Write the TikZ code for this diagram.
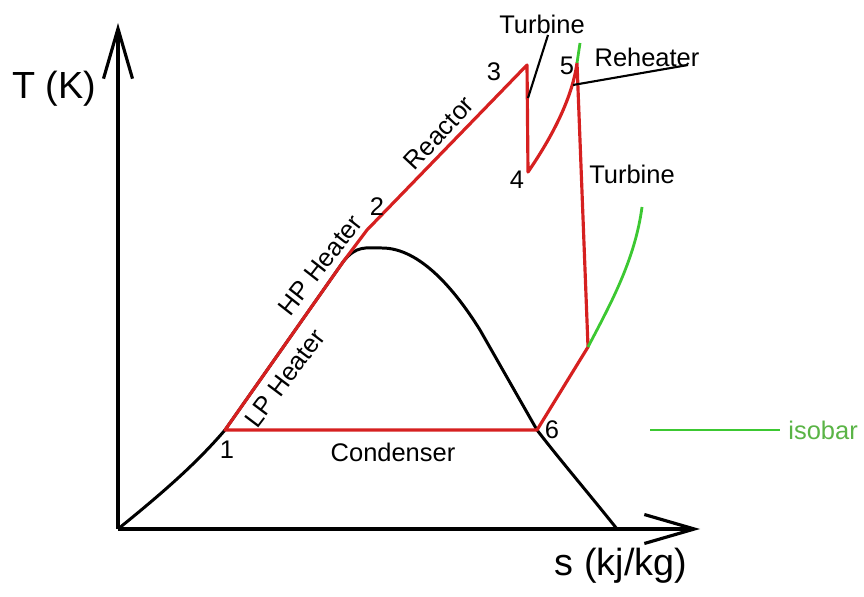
\documentclass[tikz,border=0pt]{standalone}
\usepackage{fontspec}
\setmainfont{Liberation Sans}
\usetikzlibrary{arrows.meta}
\definecolor{cycred}{RGB}{214,32,32}
\definecolor{isogreen}{RGB}{60,200,50}
\definecolor{isotext}{RGB}{90,180,70}

\begin{document}
\begin{tikzpicture}[
  x=0.02cm, y=-0.02cm,
  >={Straight Barb[length=1cm,width=0.58cm]},
  axis/.style={line width=1.8pt, ->},
  dome/.style={line width=1.7pt, line join=round},
  loop/.style={line width=1.8pt, draw=cycred, line join=round},
  iso/.style={line width=1.6pt, draw=isogreen},
  lead/.style={line width=1.2pt},
  big/.style={font=\fontsize{21.5}{24}\selectfont, inner sep=0pt},
  lbl/.style={font=\fontsize{14.5}{17}\selectfont, inner sep=0pt}
]
  \useasboundingbox (0,0) rectangle (864,597);

  % state points
  \coordinate (o) at (118,529);
  \coordinate (ytip) at (118,23);
  \coordinate (xtip) at (700,529);
  \coordinate (p1) at (225,430);
  \coordinate (tan) at (343,262);
  \coordinate (p2) at (367,230);
  \coordinate (p3) at (527,65);
  \coordinate (p4) at (528,172);
  \coordinate (p5) at (577,63);
  \coordinate (px) at (588,347);
  \coordinate (p6) at (537,430);
  \coordinate (top) at (382,248);
  \coordinate (base) at (617,529);

  % axes
  \draw[axis] (o) -- (ytip);
  \draw[axis] (o) -- (xtip);
  \node[big] (tlab) at (54,89) {T (K)};
  \node[big] (slab) at (621,566) {s (kj/kg)};

  % saturation dome
  \draw[dome] (o) .. controls (160,495) and (195,465) .. (p1) -- (tan)
    .. controls (356,245) and (366,248) .. (top)
    .. controls (420,248) and (455,290) .. (480,330)
    -- (p6) .. controls (560,460) and (590,495) .. (base);

  % cycle
  \draw[loop] (p1) -- (tan) -- (p2) -- (p3) -- (p4)
    .. controls (550,140) and (572,100) .. (p5) -- (px) -- (p6) -- cycle;

  % isobars
  \draw[iso] (p5) -- (580,43);
  \draw[iso] (px) .. controls (610,305) and (635,260) .. (642,207);
  \coordinate (isoa) at (650,430);
  \coordinate (isob) at (780,430);
  \draw[iso] (isoa) -- (isob);
  \node[lbl, anchor=west, text=isotext] (isolab) at (788,430) {isobar};

  % point numbers
  \node[lbl] (n1) at (227,450) {1};
  \node[lbl] (n2) at (377,207) {2};
  \node[lbl] (n3) at (494,72) {3};
  \node[lbl] (n4) at (517,180) {4};
  \node[lbl] (n5) at (567,66) {5};
  \node[lbl] (n6) at (552,430) {6};

  % process labels
  \node[lbl, rotate=53] (lp) at (285,378) {LP Heater};
  \node[lbl, rotate=52] (hp) at (320,265) {HP Heater};
  \node[lbl, rotate=47] (reac) at (439,133) {Reactor};
  \node[lbl] (cond) at (393,452) {Condenser};
  \node[lbl] (turb1) at (542,24) {Turbine};
  \node[lbl] (reh) at (647,57) {Reheater};
  \node[lbl] (turb2) at (632,174) {Turbine};

  % leaders
  \coordinate (t1a) at (548,35);
  \coordinate (t1b) at (528,98);
  \draw[lead] (t1a) -- (t1b);
  \coordinate (rha) at (573,85);
  \coordinate (rhb) at (688,65);
  \draw[lead] (rha) -- (rhb);
\end{tikzpicture}
\end{document}
